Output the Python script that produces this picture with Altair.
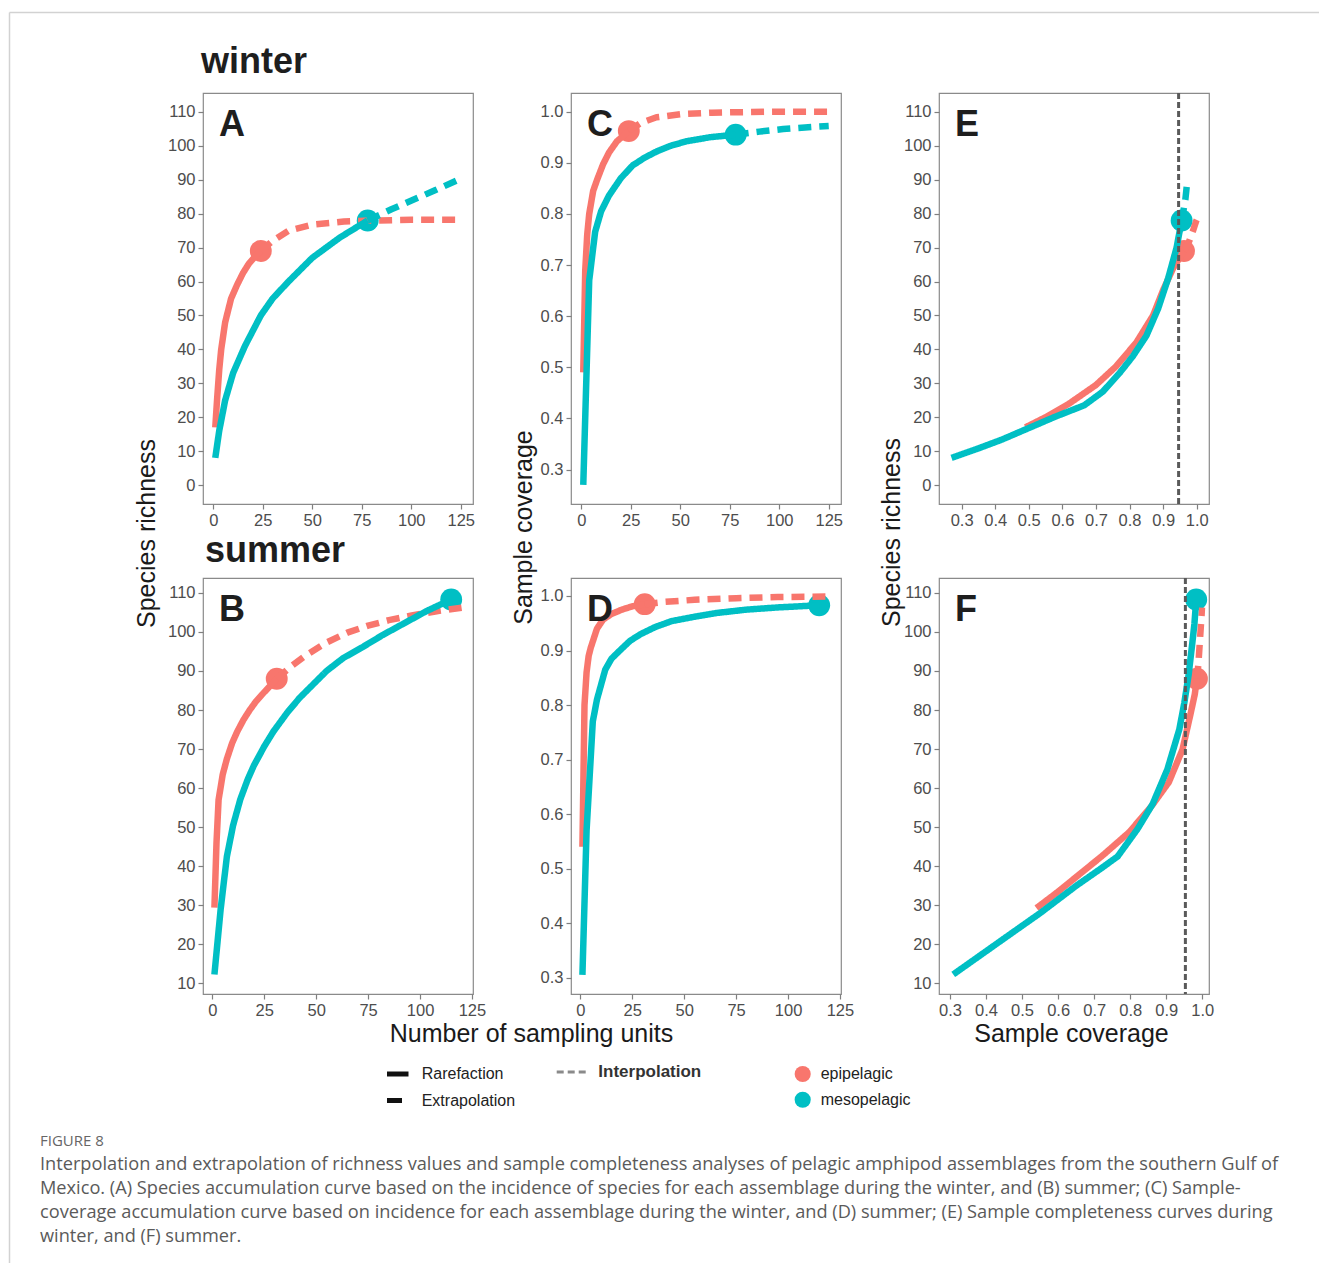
import altair as alt
import pandas as pd

FONT = "Liberation Sans"
CAP_FONT = "Open Sans"

assemblages = ["epipelagic", "mesopelagic"]
assemblage_colors = ["#F8766D", "#00BFC4"]
methods = ["Rarefaction", "Extrapolation"]

# tick labels
units_ticks = [0, 25, 50, 75, 100, 125]
rich_ticks_winter = [0, 10, 20, 30, 40, 50, 60, 70, 80, 90, 100, 110]
rich_ticks_summer = [10, 20, 30, 40, 50, 60, 70, 80, 90, 100, 110]
cov_ticks = [0.3, 0.4, 0.5, 0.6, 0.7, 0.8, 0.9, 1.0]

# ---------------- winter ----------------
# (A) species richness vs number of sampling units
a_epi_t = [1, 2, 3, 4, 6, 9, 12, 15, 18, 21, 24]
a_epi_s = [17, 26, 34, 40, 48, 55, 59, 62.5, 65.3, 67.3, 69]
a_epi_ext_t = [24, 30, 38, 50, 66, 80, 100, 125]
a_epi_ext_s = [69, 72, 75, 76.8, 77.7, 78, 78.2, 78.2]
a_meso_t = [1, 3, 6, 10, 16, 24, 30, 38, 50, 64, 78]
a_meso_s = [8, 16, 25, 33, 41, 50, 55, 60, 67, 73, 78]
a_meso_ext_t = [78, 90, 101, 112, 123]
a_meso_ext_s = [78, 81.3, 84.1, 86.9, 89.8]

# (C) sample coverage vs number of sampling units
c_epi_t = [1, 2, 3, 4, 6, 8, 11, 14, 18, 24]
c_epi_c = [0.49, 0.69, 0.76, 0.80, 0.845, 0.867, 0.897, 0.92, 0.942, 0.962]
c_epi_ext_t = [24, 30, 38, 50, 66, 80, 100, 125]
c_epi_ext_c = [0.962, 0.978, 0.989, 0.995, 0.998, 0.999, 1.0, 1.0]
c_meso_t = [1, 4, 7, 10, 14, 20, 26, 32, 38, 45, 53, 65, 78]
c_meso_c = [0.27, 0.67, 0.765, 0.805, 0.836, 0.87, 0.895, 0.91, 0.922, 0.933, 0.942, 0.95, 0.955]
c_meso_ext_t = [78, 90, 102, 113, 125]
c_meso_ext_c = [0.955, 0.961, 0.966, 0.969, 0.972]

# (E) species richness vs sample coverage
e_epi_c = [0.49, 0.55, 0.62, 0.70, 0.76, 0.82, 0.87, 0.90, 0.93, 0.962]
e_epi_s = [17, 20, 24, 29.5, 35, 42, 50, 57.5, 64, 69]
e_epi_ext_c = [0.962, 0.978, 0.989, 0.995, 0.998, 0.999, 1.0]
e_epi_ext_s = [69, 72, 75, 76.8, 77.7, 78, 78.2]
e_meso_c = [0.27, 0.35, 0.42, 0.50, 0.58, 0.665, 0.72, 0.77, 0.81, 0.85, 0.885, 0.915, 0.94, 0.955]
e_meso_s = [8, 10.8, 13.4, 16.8, 20.2, 23.5, 27.5, 33, 38, 44, 52, 61, 70, 78]
e_meso_ext_c = [0.955, 0.961, 0.966, 0.969, 0.972]
e_meso_ext_s = [78, 81.3, 84.1, 86.9, 89.8]
winter_ref_coverage = 0.946

# ---------------- summer ----------------
# (B)
b_epi_t = [1, 2, 3, 5, 7, 9.5, 12, 15, 18, 21, 24, 27.5, 31]
b_epi_s = [29.4, 46, 57, 63.5, 67.5, 71.5, 74.5, 77.5, 80, 82.2, 84, 86, 88]
b_epi_ext_t = [31, 38, 45, 55, 65, 75, 85, 96, 108, 120]
b_epi_ext_s = [88, 91.2, 94, 97.3, 99.8, 101.6, 103, 104.2, 105.3, 106.2]
b_meso_t = [1, 4, 7, 10, 13.5, 17, 20, 25, 29.4, 36, 42, 55, 63, 72, 82, 92, 103, 115]
b_meso_s = [12.3, 29, 42.5, 50.5, 57.2, 62.2, 65.8, 70.7, 74.5, 79.3, 83.1, 90, 93.3, 96, 99.2, 102.1, 105.3, 108.3]

# (D)
d_epi_t = [1, 2, 3, 4, 5, 8, 11, 15, 20, 25, 31]
d_epi_c = [0.54, 0.80, 0.86, 0.89, 0.905, 0.94, 0.957, 0.967, 0.975, 0.981, 0.985]
d_epi_ext_t = [31, 40, 55, 75, 95, 118]
d_epi_ext_c = [0.985, 0.989, 0.993, 0.996, 0.998, 0.999]
d_meso_t = [1, 3, 6, 8, 12, 15, 19, 24, 29, 36, 44, 55, 66, 80, 95, 115]
d_meso_c = [0.305, 0.57, 0.77, 0.81, 0.865, 0.885, 0.90, 0.918, 0.93, 0.943, 0.954, 0.962, 0.969, 0.975, 0.979, 0.983]

# (F)
f_epi_c = [0.54, 0.60, 0.66, 0.724, 0.797, 0.86, 0.907, 0.945, 0.968, 0.979, 0.985]
f_epi_s = [29.3, 33.5, 38, 42.8, 48.7, 55.5, 61.5, 69.9, 79.3, 84, 88]
f_epi_ext_c = [0.985, 0.989, 0.993, 0.996, 0.998, 0.999]
f_epi_ext_s = [88, 91.7, 97.3, 101.6, 104.4, 106.2]
f_meso_c = [0.309, 0.45, 0.55, 0.65, 0.72, 0.765, 0.82, 0.862, 0.903, 0.936, 0.95, 0.962, 0.972, 0.978, 0.983]
f_meso_s = [12.3, 21.5, 28, 35, 39.5, 42.5, 49.5, 55.9, 64.8, 75, 81.8, 89, 97, 102, 108.3]
summer_ref_coverage = 0.953

caption_head = "FIGURE 8"
caption_lines = [
    "Interpolation and extrapolation of richness values and sample completeness analyses of pelagic amphipod assemblages from the southern Gulf of",
    "Mexico. (A) Species accumulation curve based on the incidence of species for each assemblage during the winter, and (B) summer; (C) Sample-",
    "coverage accumulation curve based on incidence for each assemblage during the winter, and (D) summer; (E) Sample completeness curves during",
    "winter, and (F) summer.",
]

PANEL_W = 270

color_enc = alt.Color("assemblage:N", scale=alt.Scale(domain=assemblages, range=assemblage_colors), legend=None)
dash_enc = alt.StrokeDash("method:N", scale=alt.Scale(domain=methods, range=[[1, 0], [13, 8]]), legend=None)


def seg(xs, ys, assemblage, method):
    return pd.DataFrame({"x": xs, "y": ys, "assemblage": assemblage,
                         "method": method, "order": list(range(len(xs)))})


def make_panel(letter, series, xdom, ydom, xticks, yticks, xfmt, yfmt, height,
               xaxis_kw=None, yaxis_kw=None, ref=None, title=None):
    xaxis_kw = xaxis_kw or {"title": None}
    yaxis_kw = yaxis_kw or {"title": None}
    df = pd.concat([seg(*s) for s in series], ignore_index=True)
    obs = df[df.method == "Rarefaction"].groupby("assemblage", as_index=False).last()
    xenc = alt.X("x:Q", scale=alt.Scale(domain=xdom, nice=False, zero=False),
                 axis=alt.Axis(values=xticks, format=xfmt, **xaxis_kw))
    yenc = alt.Y("y:Q", scale=alt.Scale(domain=ydom, nice=False, zero=False),
                 axis=alt.Axis(values=yticks, format=yfmt, **yaxis_kw))
    layers = [alt.Chart(obs).mark_point(filled=True, size=480, opacity=1).encode(
        x=xenc, y=yenc, color=color_enc)]
    for a in assemblages:
        layers.append(alt.Chart(df[df.assemblage == a]).mark_line(
            strokeWidth=6.5, strokeCap="butt", strokeJoin="round").encode(
            x=xenc, y=yenc, color=color_enc, strokeDash=dash_enc, order="order:Q"))
    if ref is not None:
        layers.append(alt.Chart(pd.DataFrame({"x": [ref]})).mark_rule(
            color="#5a5a5a", strokeWidth=3, strokeDash=[6, 3]).encode(x=xenc))
    layers.append(alt.Chart(pd.DataFrame({"letter": [letter]})).mark_text(
        align="left", baseline="alphabetic", fontSize=36, fontWeight="bold",
        font=FONT, color="#1e1e1e").encode(text="letter:N", x=alt.value(16), y=alt.value(43)))
    ch = alt.layer(*layers).properties(width=PANEL_W, height=height)
    if title is not None:
        ch = ch.properties(title=alt.TitleParams(
            text=title[0], anchor="start", frame="group", fontSize=36, fontWeight="bold", font=FONT,
            color="#1e1e1e", offset=title[1], dx=title[2], dy=title[3], baseline="bottom"))
    return ch


X_UNITS_W = [-5.2, 131.2]
X_UNITS_S = [-4.5, 125.5]
Y_RICH_W = [-5.6, 115.6]
Y_RICH_S = [7.3, 113.8]
COV_W = [0.2326, 1.0365]
COV_S = [0.270, 1.033]
COV_SX = [0.2696, 1.0185]

H1, H2 = 411, 416

panel_a = make_panel(
    "A",
    [(a_epi_t, a_epi_s, "epipelagic", "Rarefaction"), (a_epi_ext_t, a_epi_ext_s, "epipelagic", "Extrapolation"),
     (a_meso_t, a_meso_s, "mesopelagic", "Rarefaction"), (a_meso_ext_t, a_meso_ext_s, "mesopelagic", "Extrapolation")],
    X_UNITS_W, Y_RICH_W, units_ticks, rich_ticks_winter, "d", "d", H1,
    yaxis_kw={"title": "Species richness", "titleX": -49, "titleY": 440, "titleBaseline": "alphabetic"},
    title=("winter", 12, -2, 36))

panel_c = make_panel(
    "C",
    [(c_epi_t, c_epi_c, "epipelagic", "Rarefaction"), (c_epi_ext_t, c_epi_ext_c, "epipelagic", "Extrapolation"),
     (c_meso_t, c_meso_c, "mesopelagic", "Rarefaction"), (c_meso_ext_t, c_meso_ext_c, "mesopelagic", "Extrapolation")],
    X_UNITS_W, COV_W, units_ticks, cov_ticks, "d", ".1f", H1,
    yaxis_kw={"title": "Sample coverage", "titleX": -40, "titleY": 434, "titleBaseline": "alphabetic"})

panel_e = make_panel(
    "E",
    [(e_epi_c, e_epi_s, "epipelagic", "Rarefaction"), (e_epi_ext_c, e_epi_ext_s, "epipelagic", "Extrapolation"),
     (e_meso_c, e_meso_s, "mesopelagic", "Rarefaction"), (e_meso_ext_c, e_meso_ext_s, "mesopelagic", "Extrapolation")],
    COV_W, Y_RICH_W, cov_ticks, rich_ticks_winter, ".1f", "d", H1,
    yaxis_kw={"title": "Species richness", "titleX": -40, "titleY": 439, "titleBaseline": "alphabetic"},
    ref=winter_ref_coverage)

panel_b = make_panel(
    "B",
    [(b_epi_t, b_epi_s, "epipelagic", "Rarefaction"), (b_epi_ext_t, b_epi_ext_s, "epipelagic", "Extrapolation"),
     (b_meso_t, b_meso_s, "mesopelagic", "Rarefaction")],
    X_UNITS_S, Y_RICH_S, units_ticks, rich_ticks_summer, "d", "d", H2,
    xaxis_kw={"title": "Number of sampling units", "titleX": 328, "titleY": 47, "titleBaseline": "alphabetic"},
    title=("summer", 9, 2, 37))

panel_d = make_panel(
    "D",
    [(d_epi_t, d_epi_c, "epipelagic", "Rarefaction"), (d_epi_ext_t, d_epi_ext_c, "epipelagic", "Extrapolation"),
     (d_meso_t, d_meso_c, "mesopelagic", "Rarefaction")],
    X_UNITS_S, COV_S, units_ticks, cov_ticks, "d", ".1f", H2)

panel_f = make_panel(
    "F",
    [(f_epi_c, f_epi_s, "epipelagic", "Rarefaction"), (f_epi_ext_c, f_epi_ext_s, "epipelagic", "Extrapolation"),
     (f_meso_c, f_meso_s, "mesopelagic", "Rarefaction")],
    COV_SX, Y_RICH_S, cov_ticks, rich_ticks_summer, ".1f", "d", H2,
    xaxis_kw={"title": "Sample coverage", "titleX": 132, "titleY": 47, "titleBaseline": "alphabetic"},
    ref=summer_ref_coverage)

# ---------------- legend ----------------
line_df = pd.DataFrame({"label": methods})
ly = alt.Y("label:N", scale=alt.Scale(type="point", domain=methods, range=[6, 32.5], padding=0), axis=None)
leg_rare = alt.Chart(line_df).transform_filter(alt.datum.label == methods[0]).mark_rule(
    strokeWidth=5, color="#111111", strokeCap="butt").encode(y=ly, x=alt.value(184), x2=alt.value(205.5))
leg_extr = alt.Chart(line_df).transform_filter(alt.datum.label == methods[1]).mark_rule(
    strokeWidth=5, color="#111111", strokeCap="butt").encode(y=ly, x=alt.value(184), x2=alt.value(199))
leg_line_txt = alt.Chart(line_df).mark_text(align="left", baseline="middle", fontSize=16, font=FONT,
                                            color="#222222").encode(y=ly, text="label:N", x=alt.value(218.7))

interp_df = pd.DataFrame({"label": ["Interpolation"]})
iy = alt.Y("label:N", scale=alt.Scale(type="point", domain=["Interpolation"], range=[4, 4], padding=0), axis=None)
leg_interp = alt.Chart(interp_df).mark_rule(strokeWidth=3, color="#8a8a8a", strokeDash=[7, 4],
                                            strokeCap="butt").encode(y=iy, x=alt.value(353.7), x2=alt.value(383.7))
leg_interp_txt = alt.Chart(interp_df).mark_text(align="left", baseline="middle", fontSize=17, fontWeight="bold",
                                                font=FONT, color="#333333").encode(y=iy, text="label:N", x=alt.value(395.3))

asm_df = pd.DataFrame({"assemblage": assemblages})
ay = alt.Y("assemblage:N", scale=alt.Scale(type="point", domain=assemblages, range=[6, 31.7], padding=0), axis=None)
leg_pts = alt.Chart(asm_df).mark_point(filled=True, size=260, opacity=1).encode(
    y=ay, x=alt.value(599.7), color=color_enc)
leg_pts_txt = alt.Chart(asm_df).mark_text(align="left", baseline="middle", fontSize=16, font=FONT,
                                          color="#222222").encode(y=ay, text="assemblage:N", x=alt.value(617.7))

# caption block (below the legend)
head_df = pd.DataFrame({"text": [caption_head]})
cap_head = alt.Chart(head_df).mark_text(align="left", baseline="middle", fontSize=15, font=CAP_FONT,
                                        color="#666666").encode(text="text:N", x=alt.value(-163), y=alt.value(73))
cap_df = pd.DataFrame({"text": caption_lines, "row": list(range(len(caption_lines)))})
cy = alt.Y("row:O", scale=alt.Scale(type="point", domain=list(range(len(caption_lines))), range=[97, 169], padding=0),
           axis=None)
cap_body = alt.Chart(cap_df).mark_text(align="left", baseline="middle", fontSize=18.2, font=CAP_FONT,
                                       color="#5a5a5a").encode(text="text:N", x=alt.value(-163), y=cy)

# light page frame (left and top edges) around the figure
frame_left = alt.Chart(pd.DataFrame({"edge": ["left"]})).mark_rule(color="#d2d2d2", strokeWidth=1.5).encode(
    x=alt.value(-193.5), x2=alt.value(-193.5), y=alt.value(-1055.5), y2=alt.value(195))
frame_top = alt.Chart(pd.DataFrame({"edge": ["top"]})).mark_rule(color="#d2d2d2", strokeWidth=1.5).encode(
    x=alt.value(-193.5), x2=alt.value(1116), y=alt.value(-1055.5), y2=alt.value(-1055.5))

legend_view = alt.layer(frame_left, frame_top, leg_rare, leg_extr, leg_line_txt, leg_interp, leg_interp_txt,
                        leg_pts, leg_pts_txt, cap_head, cap_body).resolve_scale(
    y="independent").properties(width=PANEL_W, height=40, view=alt.ViewBackground(stroke="transparent"))

chart = alt.concat(
    panel_a, panel_c, panel_e, panel_b, panel_d, panel_f, legend_view,
    columns=3, spacing={"row": 74, "column": 98}, bounds="flush", align="each",
).properties(
    background="white",
    padding={"left": 8, "top": 11, "right": 0, "bottom": 0},
).configure_axis(
    labelFont=FONT, labelFontSize=16.5, labelColor="#4d4d4d", tickColor="#7f7f7f", tickSize=5,
    tickWidth=1.2, domain=False, grid=False, labelPadding=3, titleFont=FONT, titleFontSize=25,
    titleFontWeight="normal", titleColor="#1a1a1a",
).configure_view(stroke="#8a8a8a", strokeWidth=1.2)

chart.save("out.html", embed_options={"renderer": "svg", "actions": False})
